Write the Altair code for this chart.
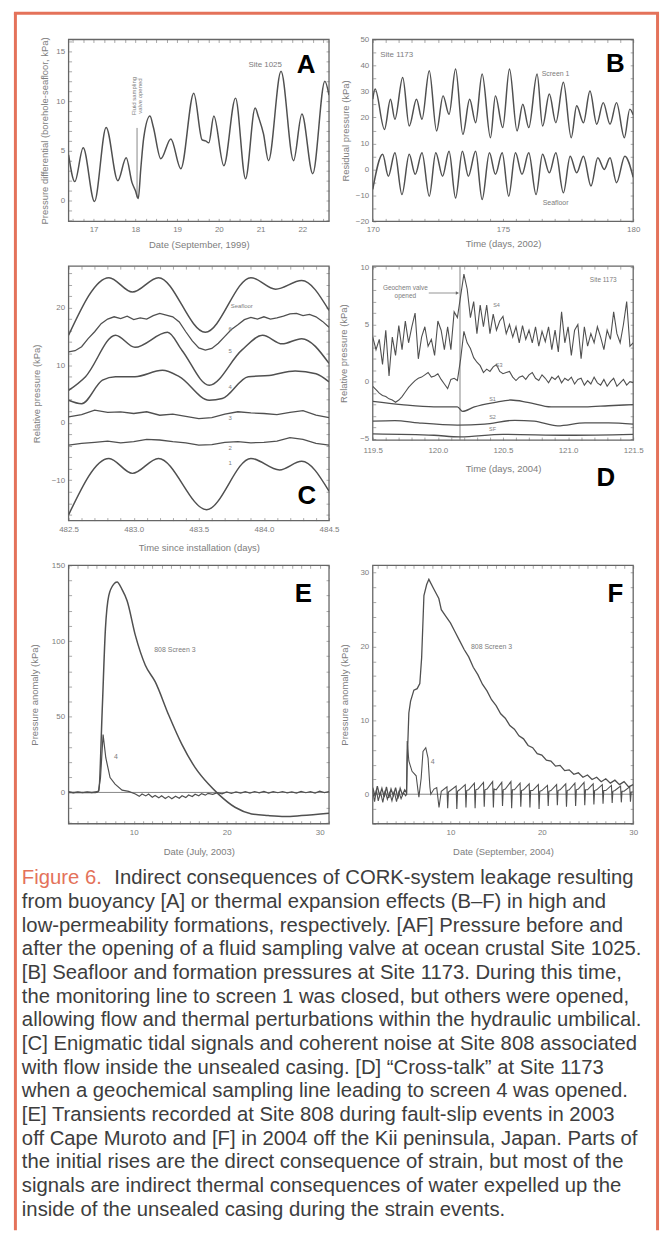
import altair as alt
import pandas as pd

FONT = "Liberation Sans, Arial, Helvetica, sans-serif"
ORANGE = "#e4725a"
INK = "#505050"
FRAME = "#666666"
TICK = "#929292"
LAB = "#7d7d7d"
CAP_INK = "#3d3d3d"

# ---------------- Panel A ----------------
a_day = [16.40, 16.55, 16.75, 17.02, 17.30, 17.58, 17.78, 17.92, 18.00, 18.07,
         18.13, 18.20, 18.35, 18.43, 18.61, 18.85, 19.09, 19.40, 19.60, 19.68,
         19.76, 19.88, 20.12, 20.40, 20.64, 20.87, 20.95, 21.07, 21.19, 21.49,
         21.79, 21.99, 22.25, 22.54, 22.64]
a_val = [4.6, 1.9, 5.3, -0.1, 7.35, 2.0, 4.3, 1.8, 1.0, 0.2,
         3.2, 6.3, 8.5, 7.4, 4.2, 6.2, 3.2, 10.8, 6.1, 6.0,
         5.8, 8.5, 3.5, 10.3, 2.2, 9.3, 8.4, 6.7, 4.0, 13.0,
         4.0, 8.7, 2.7, 12.0, 10.6]

# ---------------- Panel B ----------------
b_s1_day = [170.0, 170.09, 170.45, 170.68, 170.85, 171.15, 171.40, 171.68, 171.89, 172.17,
            172.45, 172.70, 172.93, 173.18, 173.46, 173.72, 173.95, 174.20, 174.52, 174.71,
            174.99, 175.25, 175.54, 175.76, 175.99, 176.31, 176.52, 176.78, 177.03, 177.32,
            177.62, 177.83, 178.09, 178.34, 178.60, 178.85, 179.11, 179.36, 179.66, 179.87, 180.0]
b_s1_val = [27.0, 30.9, 15.4, 27.0, 19.3, 35.4, 16.7, 27.0, 19.3, 38.0,
            14.8, 28.3, 21.2, 38.6, 13.5, 27.0, 18.0, 36.7, 12.2, 28.3,
            16.1, 38.6, 14.8, 25.1, 16.1, 36.7, 16.7, 29.0, 18.0, 33.5,
            12.2, 24.5, 18.0, 30.2, 17.4, 25.7, 17.4, 25.7, 12.2, 23.2, 21.0]
b_sf_day = [170.0, 170.38, 170.60, 170.85, 171.12, 171.40, 171.63, 171.89, 172.17, 172.42,
            172.68, 172.93, 173.18, 173.44, 173.67, 173.95, 174.20, 174.48, 174.71, 174.97,
            175.22, 175.48, 175.73, 175.99, 176.27, 176.52, 176.78, 177.03, 177.32, 177.58,
            177.83, 178.09, 178.38, 178.64, 178.89, 179.11, 179.36, 179.68, 180.0]
b_sf_val = [-7.7, 5.8, -2.6, 6.4, -9.7, 5.8, -1.9, 6.4, -10.3, 6.4,
            -2.6, 7.0, -11.0, 7.0, -2.6, 7.0, -11.6, 6.4, -1.9, 6.4,
            -10.3, 6.4, -1.9, 6.4, -9.7, 5.8, -1.3, 6.4, -9.0, 5.1,
            -1.3, 5.1, -6.4, 4.5, 0.0, 4.5, -5.1, 5.1, -3.0]

# ---------------- Panel C ----------------
c_sf_day = [482.5, 482.81, 482.99, 483.19, 483.55, 483.90, 484.09, 484.29, 484.5]
c_sf_val = [15.2, 25.2, 22.7, 25.2, 15.7, 25.2, 23.2, 24.7, 19.5]
c6_day = [round(482.5 + 0.05 * i, 3) for i in range(41)]
c6_val = [12.3, 12.5, 13.2, 14.6, 15.8, 17.2, 18.0, 18.4, 18.1, 18.5,
          17.9, 18.2, 18.0, 18.6, 19.0, 18.7, 18.4, 17.5, 15.8, 14.2,
          13.0, 12.6, 12.9, 13.8, 15.0, 16.2, 17.0, 17.9, 18.3, 18.0,
          18.4, 18.0, 18.2, 18.5, 18.9, 19.0, 18.6, 18.8, 18.4, 17.6, 16.6]
c5_day = [482.5, 482.63, 482.86, 483.01, 483.26, 483.37, 483.58, 483.83, 483.99, 484.14, 484.29, 484.5]
c5_val = [5.6, 8.0, 15.2, 13.1, 15.7, 12.6, 6.5, 12.6, 15.2, 13.7, 14.6, 10.3]
c4_day = [482.5, 482.60, 482.76, 482.86, 483.01, 483.22, 483.35, 483.58, 483.68, 483.88, 484.04, 484.24, 484.40, 484.5]
c4_val = [3.9, 3.3, 7.4, 8.0, 8.0, 9.1, 8.0, 3.9, 4.2, 8.0, 8.2, 9.0, 8.5, 7.1]
c32_day = [round(482.5 + 0.1 * i, 3) for i in range(21)]
c3_val = [1.0, 1.4, 2.2, 1.8, 1.9, 1.6, 1.9, 1.3, 1.5, 1.1, 0.7,
          0.9, 1.5, 1.9, 1.7, 1.6, 1.4, 1.8, 2.1, 1.3, 0.9]
c2_val = [-3.9, -3.6, -3.4, -3.2, -3.5, -3.3, -2.9, -3.0, -3.3, -3.5, -3.9,
          -3.8, -3.4, -3.3, -3.5, -3.4, -3.2, -2.6, -2.9, -3.6, -3.9]
c1_day = [482.5, 482.81, 482.99, 483.19, 483.56, 483.90, 484.12, 484.29, 484.5]
c1_val = [-16.0, -6.2, -8.8, -6.2, -15.1, -6.2, -8.2, -6.7, -11.9]

# ---------------- Panel D ----------------
d_t = [round(119.5 + 0.025 * i, 4) for i in range(81)]
d_s4 = [3.9, 2.8, 3.7, 1.5, 4.5, 0.5, 3.9, 2.3, 4.9, 2.8,
        5.3, 3.4, 4.8, 6.0, 2.0, 3.9, 4.8, 3.1, 3.7, 2.3,
        5.3, 4.5, 2.8, 4.8, 2.8, 6.1, 5.6, 7.5, 9.4, 8.1,
        5.6, 7.0, 4.2, 6.7, 4.8, 6.7, 4.2, 5.9, 4.5, 5.3,
        5.7, 4.2, 5.0, 3.9, 4.8, 3.4, 4.9, 3.7, 4.5, 3.4,
        4.8, 3.1, 4.4, 3.5, 4.8, 2.8, 4.5, 2.6, 6.1, 3.4,
        4.8, 2.3, 4.5, 5.0, 2.0, 4.8, 3.1, 4.2, 3.4, 4.8,
        3.9, 2.8, 4.5, 3.7, 6.1, 4.2, 3.4, 5.0, 7.0, 3.1,
        3.4]
d_s3 = [-0.4, -0.7, -1.0, -1.2, -1.3, -1.5, -1.6, -1.8, -1.6, -1.3,
        -0.9, -0.5, -0.2, 0.1, 0.3, 0.4, 0.6, 0.8, 0.4, 0.5,
        0.7, 0.2, -0.2, -0.6, 0.2, 0.3, 0.1, 2.0, 4.4, 3.4,
        2.9, 2.1, 1.7, 1.4, 0.8, 1.1, 0.9, 1.3, 1.5, 0.9,
        0.7, 0.8, 0.9, 0.4, 0.1, 0.4, 0.5, 0.2, 0.6, 0.8,
        0.3, 0.1, 0.6, 0.3, -0.1, 0.4, 0.2, 0.5, -0.1, 0.3,
        0.1, 0.4, -0.2, 0.2, 0.3, -0.3, 0.1, -0.2, 0.4, -0.1,
        -0.3, 0.2, -0.4, 0.0, 0.3, -0.4, -0.1, 0.2, -0.3, 0.0,
        -0.1]
d1_day = [119.5, 119.72, 119.97, 120.15, 120.19, 120.28, 120.44, 120.56, 120.69, 120.87, 121.13, 121.31, 121.5]
d1_val = [-1.72, -2.0, -2.2, -2.2, -2.6, -2.2, -1.8, -1.6, -1.8, -2.2, -2.2, -2.1, -2.0]
d2_day = [119.5, 119.67, 119.85, 120.15, 120.36, 120.59, 120.74, 120.92, 121.13, 121.31, 121.5]
d2_val = [-3.45, -3.4, -3.6, -3.8, -3.7, -3.37, -3.45, -3.86, -3.6, -3.6, -3.7]
dsf_day = [119.5, 119.97, 120.17, 120.5, 121.0, 121.5]
dsf_val = [-4.55, -4.68, -4.82, -4.6, -4.68, -4.6]

# ---------------- Panel E ----------------
e3_day = [3.0, 5.9, 6.25, 6.61, 6.96, 7.32, 7.86, 8.21, 8.75, 9.29, 10.18, 11.25,
          12.32, 13.75, 15.18, 16.61, 18.04, 19.11, 20.89, 22.68, 24.46, 26.25, 28.04, 31.0]
e3_val = [0.0, 0.0, 1.1, 53.5, 108.0, 130.0, 137.6, 139.0, 134.0, 126.6, 103.7, 84.0,
          73.0, 51.3, 31.7, 16.4, 5.5, -1.1, -9.8, -14.2, -15.3, -15.9, -15.3, -13.8]
e4_day = [3.0, 3.5, 4.0, 4.5, 5.0, 5.5, 6.2, 6.43, 6.71, 7.0, 7.46, 8.0, 8.75, 9.46, 10.18,
          10.6, 10.9, 11.3, 11.6, 12.0, 12.3, 12.7, 13.0, 13.4, 13.75, 14.1, 14.5, 14.9, 15.2,
          15.6, 15.9, 16.3, 16.6, 17.0, 17.3, 17.7, 18.0, 18.5, 19.0, 19.5, 20.0, 20.5, 21.0,
          21.5, 22.0, 22.5, 23.0, 23.5, 24.0, 24.5, 25.0, 25.5, 26.0, 26.5, 27.0, 27.5, 28.0,
          28.5, 29.0, 29.5, 30.0, 30.5, 31.0]
e4_val = [0.5, -0.3, 0.4, -0.2, 0.3, -0.1, 0.7, 9.8, 38.2, 22.9, 9.8, 5.5, 1.5, 0.7, -1.0,
          -2.6, -1.0, -2.3, -1.1, -3.2, -2.0, -3.6, -2.2, -4.0, -2.6, -4.2, -2.5, -3.8, -2.2,
          -3.4, -1.7, -2.7, -1.2, -2.2, -0.8, -1.8, -0.6, -1.3, -0.1, -0.9, 0.3, -0.7, 0.4,
          -0.5, 0.5, -0.4, 0.6, -0.3, 0.7, -0.4, 0.5, -0.2, 0.6, -0.3, 0.4, -0.5, 0.7,
          -0.2, 0.5, -0.4, 0.8, -0.1, 0.5]

# ---------------- Panel F ----------------
f3_day = [1.5, 1.75, 2.0, 2.25, 2.5, 2.75, 3.0, 3.25, 3.5, 3.75, 4.0, 4.25, 4.5, 4.75,
          5.0, 5.2, 5.27, 5.45, 5.64, 6.0, 6.36, 6.65, 6.85, 7.1, 7.4, 7.64, 8.18, 8.73] + \
         [9.0 + 0.5 * i for i in range(43)]
f3_val = [0.9, -0.3, 1.1, -0.2, 0.8, -0.4, 1.0, -0.5, 0.7, -0.2, 0.9, -0.6, 0.8, -0.1,
          0.6, 0.2, 4.5, 11.0, 12.6, 14.1, 14.3, 15.0, 18.5, 26.9, 28.4, 29.1, 27.8, 26.5,
          25.0, 24.1, 23.2, 22.0, 20.8, 19.6, 18.6, 17.2, 16.2, 14.9,
          14.0, 12.8, 12.0, 10.9, 10.3, 9.3, 8.8, 7.9, 7.5, 6.6,
          6.3, 5.5, 5.3, 4.6, 4.5, 3.8, 3.9, 3.2, 3.3, 2.7,
          2.9, 2.3, 2.6, 2.0, 2.3, 1.7, 2.1, 1.5, 1.9, 1.3,
          1.7, 1.0, 1.3]
f4_day = [1.5, 1.7, 1.9, 2.1, 2.35, 2.6, 2.85, 3.1, 3.35, 3.6, 3.85, 4.1, 4.35, 4.6, 4.85,
          5.1, 5.2, 5.27, 5.45, 5.8, 6.25, 6.45, 6.55, 6.8, 7.0, 7.3, 7.55, 7.75, 7.85, 8.2,
          8.5, 8.75] + \
         [round(t, 2) for d in range(9, 30) for t in (d, d + 0.62, d + 0.7, d + 0.78)] + [30.0]
f4_val = [0.4, -1.0, 0.6, -0.9, 0.3, -1.1, 0.5, -0.7, 0.2, -0.9, 0.4, -1.0, 0.3, -0.6, 0.2,
          -0.2, 0.0, 7.2, 4.5, 3.1, 2.5, 0.5, -0.4, 2.2, 5.8, 6.3, 4.9, 1.0, 0.0, 0.7,
          0.9, -1.8,
          0.4, 1.0, -1.9, 0.3,
          0.5, 1.1, -2.0, 0.4,
          0.6, 1.3, -1.8, 0.5,
          0.6, 1.5, -1.9, 0.6,
          0.7, 1.6, -1.7, 0.6,
          0.7, 1.7, -1.8, 0.7,
          0.6, 1.6, -1.6, 0.6,
          0.7, 1.7, -1.9, 0.6,
          0.6, 1.5, -1.7, 0.5,
          0.6, 1.4, -1.8, 0.5,
          0.5, 1.3, -2.0, 0.4,
          0.5, 1.2, -1.6, 0.4,
          0.5, 1.3, -1.5, 0.5,
          0.6, 1.4, -1.7, 0.5,
          0.6, 1.5, -1.6, 0.6,
          0.7, 1.6, -1.5, 0.6,
          0.6, 1.4, -1.4, 0.5,
          0.6, 1.3, -1.3, 0.5,
          0.5, 1.2, -1.2, 0.4,
          0.5, 1.1, -1.1, 0.4,
          0.4, 1.0, -1.0, 0.3,
          0.3]

# ---------------- Caption ----------------
cap_head = "Figure 6."
cap_lines = [
    "Indirect consequences of CORK-system leakage resulting",
    "from buoyancy [A] or thermal expansion effects (B\u2013F) in high and",
    "low-permeability formations, respectively. [AF] Pressure before and",
    "after the opening of a fluid sampling valve at ocean crustal Site 1025.",
    "[B] Seafloor and formation pressures at Site 1173. During this time,",
    "the monitoring line to screen 1 was closed, but others were opened,",
    "allowing flow and thermal perturbations within the hydraulic umbilical.",
    "[C] Enigmatic tidal signals and coherent noise at Site 808 associated",
    "with flow inside the unsealed casing. [D] \u201cCross-talk\u201d at Site 1173",
    "when a geochemical sampling line leading to screen 4 was opened.",
    "[E] Transients recorded at Site 808 during fault-slip events in 2003",
    "off Cape Muroto and [F] in 2004 off the Kii peninsula, Japan. Parts of",
    "the initial rises are the direct consequence of strain, but most of the",
    "signals are indirect thermal consequences of water expelled  up the",
    "inside of the unsealed casing during the strain events.",
]


# ---------------- helpers ----------------
def sc(dom):
    return alt.Scale(domain=dom, nice=False, zero=False)


def maj(k):
    return f"abs(datum.value / {k} - round(datum.value / {k})) < 0.000001 ? datum.label : ''"


TICKS = dict(domain=False, grid=False, ticks=True, tickSize=3, offset=-3,
             tickColor=TICK, tickWidth=0.8)
LABS = dict(labelFont=FONT, labelFontSize=8, labelColor=LAB, labelFlush=False,
            labelOverlap=False, titleFont=FONT, titleFontSize=9.5, titleColor=LAB,
            titleFontWeight="normal")


def axes(xdom, ydom, xt, yt, xk, yk, xfmt, yfmt, xtitle, ytitle,
         xlp=4, xtp=6, ylp=4, ytp=6):
    corners = pd.DataFrame({"x": list(xdom), "y": list(ydom)})
    bl = alt.Chart(corners).mark_point(opacity=0).encode(
        x=alt.X("x:Q", scale=sc(xdom),
                axis=alt.Axis(orient="bottom", values=xt, format=xfmt, labelExpr=maj(xk),
                              title=xtitle, labelPadding=xlp, titlePadding=xtp, **TICKS, **LABS)),
        y=alt.Y("y:Q", scale=sc(ydom),
                axis=alt.Axis(orient="left", values=yt, format=yfmt, labelExpr=maj(yk),
                              title=ytitle, labelPadding=ylp, titlePadding=ytp, **TICKS, **LABS)),
    )
    tr = alt.Chart(corners).mark_point(opacity=0).encode(
        x=alt.X("x:Q", scale=sc(xdom),
                axis=alt.Axis(orient="top", values=xt, labels=False, title=None, **TICKS)),
        y=alt.Y("y:Q", scale=sc(ydom),
                axis=alt.Axis(orient="right", values=yt, labels=False, title=None, **TICKS)),
    )
    # plot frame: a rectangle spanning the axis domains, outline only
    box = pd.DataFrame({"x": [xdom[0]], "x2": [xdom[1]], "y": [ydom[0]], "y2": [ydom[1]]})
    fr = alt.Chart(box).mark_rect(fill="transparent", stroke=FRAME, strokeWidth=1.3,
                                  strokeOpacity=1).encode(
        x=alt.X("x:Q", scale=sc(xdom), axis=None), x2="x2:Q",
        y=alt.Y("y:Q", scale=sc(ydom), axis=None), y2="y2:Q",
    )
    return [fr, bl, tr]


def line(xs, ys, xdom, ydom, interp="monotone", width=1.5, color=INK):
    df = pd.DataFrame({"x": xs, "y": ys})
    return alt.Chart(df).mark_line(color=color, strokeWidth=width, interpolate=interp,
                                   clip=True).encode(
        x=alt.X("x:Q", scale=sc(xdom), axis=None),
        y=alt.Y("y:Q", scale=sc(ydom), axis=None),
    )


def text(xs, ys, ts, xdom, ydom, size=7.5, color=LAB, weight="normal", angle=0,
         align="center"):
    df = pd.DataFrame({"x": xs, "y": ys, "t": ts})
    return alt.Chart(df).mark_text(fontSize=size, color=color, fontWeight=weight,
                                   angle=angle, align=align, baseline="middle",
                                   font=FONT).encode(
        x=alt.X("x:Q", scale=sc(xdom), axis=None),
        y=alt.Y("y:Q", scale=sc(ydom), axis=None),
        text="t:N",
    )


def big(x, y, letter, xdom, ydom):
    return text([x], [y], [letter], xdom, ydom, size=26, color="#000000", weight="bold")


def vrule(x, y0, y1, xdom, ydom, color="#7a7a7a", width=0.9):
    df = pd.DataFrame({"x": [x], "y": [y0], "y2": [y1]})
    return alt.Chart(df).mark_rule(color=color, strokeWidth=width).encode(
        x=alt.X("x:Q", scale=sc(xdom), axis=None),
        y=alt.Y("y:Q", scale=sc(ydom), axis=None),
        y2="y2:Q",
    )


def hrule(y, x0, x1, xdom, ydom, color="#7a7a7a", width=0.9):
    df = pd.DataFrame({"x": [x0], "x2": [x1], "y": [y]})
    return alt.Chart(df).mark_rule(color=color, strokeWidth=width).encode(
        x=alt.X("x:Q", scale=sc(xdom), axis=None),
        x2="x2:Q",
        y=alt.Y("y:Q", scale=sc(ydom), axis=None),
    )


one = pd.DataFrame({"k": [0]})


def panel(layers, w, h):
    return alt.layer(*layers).resolve_axis(
        x="independent", y="independent").properties(width=w, height=h)


border = [
    alt.Chart(one).mark_rule(color=ORANGE, strokeWidth=3).encode(
        x=alt.value(-53.5), y=alt.value(-26.5), y2=alt.value(1198)),
    alt.Chart(one).mark_rule(color=ORANGE, strokeWidth=3).encode(
        x=alt.value(592.5), y=alt.value(-26.5), y2=alt.value(1198)),
    alt.Chart(one).mark_rule(color=ORANGE, strokeWidth=3).encode(
        x=alt.value(-55), x2=alt.value(594), y=alt.value(-26.5)),
]

# ---------------- panels ----------------
W = 262
XA, YA = [16.4, 22.64], [-2.1, 16.2]
pA = panel(
    border
    + axes(XA, YA, [round(16.5 + 0.25 * i, 3) for i in range(25)], list(range(-2, 17)),
           1, 5, ".0f", ".0f", "Date (September, 1999)",
           "Pressure differential (borehole-seafloor, kPa)", xtp=6, ytp=6)
    + [
        vrule(18.04, 0.3, 7.3, XA, YA),
        line(a_day, a_val, XA, YA),
        text([17.96, 18.12], [10.5, 10.5], ["Fluid sampling", "valve opened"], XA, YA,
             size=6, angle=270),
        text([21.11], [13.6], ["Site 1025"], XA, YA, size=8),
        big(22.09, 13.6, "A", XA, YA),
    ], W, 183)

XB, YB = [170, 180], [-20, 50]
pB = panel(
    axes(XB, YB, [170 + 0.5 * i for i in range(21)], list(range(-20, 51, 5)),
         5, 10, ".0f", ".0f", "Time (days, 2002)", "Residual pressure (kPa)",
         xtp=5, ytp=5)
    + [
        line(b_s1_day, b_s1_val, XB, YB),
        line(b_sf_day, b_sf_val, XB, YB),
        text([170.92], [43.9], ["Site 1173"], XB, YB, size=8),
        text([177.02, 177.02], [36.6, -12.9], ["Screen 1", "Seafloor"], XB, YB, size=7),
        big(179.31, 40.4, "B", XB, YB),
    ], W, 183)

XC, YC = [482.5, 484.5], [-17, 27.2]
pC = panel(
    axes(XC, YC, [round(482.5 + 0.1 * i, 3) for i in range(21)], list(range(-16, 27, 2)),
         0.5, 10, ".1f", ".0f", "Time since installation (days)", "Relative pressure (kPa)",
         xlp=5, xtp=9, ytp=10)
    + [
        line(c_sf_day, c_sf_val, XC, YC),
        line(c6_day, c6_val, XC, YC, interp="linear", width=1.3),
        line(c5_day, c5_val, XC, YC),
        line(c4_day, c4_val, XC, YC),
        line(c32_day, c3_val, XC, YC, interp="linear", width=1.3),
        line(c32_day, c2_val, XC, YC, interp="linear", width=1.3),
        line(c1_day, c1_val, XC, YC),
        text([483.83, 483.74, 483.74, 483.74, 483.74, 483.74, 483.74],
             [20.3, 16.3, 12.5, 6.2, 0.74, -4.4, -7.0],
             ["Seafloor", "6", "5", "4", "3", "2", "1"], XC, YC, size=6),
        big(484.33, -12.75, "C", XC, YC),
    ], W, 256)

XD, YD = [119.5, 121.5], [-5.1, 10.1]
pD = panel(
    axes(XD, YD, [round(119.5 + 0.1 * i, 3) for i in range(21)], list(range(-5, 11)),
         0.5, 5, ".1f", ".0f", "Time (days, 2004)", "Relative pressure (kPa)",
         xlp=7, xtp=9, ytp=11)
    + [
        vrule(120.17, -5.1, 10.1, XD, YD),
        line(d_t, d_s4, XD, YD, interp="linear", width=1.1),
        line(d_t, d_s3, XD, YD, interp="linear", width=1.1),
        line(d1_day, d1_val, XD, YD, width=1.3),
        line(d2_day, d2_val, XD, YD, width=1.3),
        line(dsf_day, dsf_val, XD, YD, width=1.3),
        hrule(7.75, 119.93, 120.14, XD, YD, width=0.8),
        alt.Chart(pd.DataFrame({"x": [120.15], "y": [7.75]})).mark_point(
            shape="triangle-right", filled=True, size=14, color="#6a6a6a", opacity=1).encode(
            x=alt.X("x:Q", scale=sc(XD), axis=None), y=alt.Y("y:Q", scale=sc(YD), axis=None)),
        text([119.75, 119.75], [8.19, 7.5], ["Geochem valve", "opened"], XD, YD, size=6.5),
        text([121.27], [8.87], ["Site 1173"], XD, YD, size=6.5),
        text([120.45, 120.47, 120.42, 120.42, 120.42], [6.7, 1.48, -1.48, -3.12, -4.13],
             ["S4", "S3", "S1", "S2", "SF"], XD, YD, size=5.5),
        big(121.29, -8.4, "D", XD, YD),
    ], W, 175)

XE, YE = [3, 31], [-20.7, 150]
pE = panel(
    axes(XE, YE, list(range(3, 32)), list(range(-20, 151, 10)), 10, 50, ".0f", ".0f",
         "Date (July, 2003)", "Pressure anomaly (kPa)", xlp=5, xtp=10, ytp=12)
    + [
        hrule(0, 3, 31, XE, YE),
        line(e3_day, e3_val, XE, YE),
        line(e4_day, e4_val, XE, YE, interp="linear", width=1.2),
        text([14.43], [93.8], ["808 Screen 3"], XE, YE, size=7),
        text([8.1], [23.1], ["4"], XE, YE, size=7),
        big(28.25, 131, "E", XE, YE),
    ], W, 260)

XF, YF = [1.5, 30], [-4, 31]
pF = panel(
    axes(XF, YF, list(range(2, 31)), list(range(-4, 31, 2)), 10, 10, ".0f", ".0f",
         "Date (September, 2004)", "Pressure anomaly (kPa)", xlp=5, xtp=10, ytp=11)
    + [
        hrule(0, 1.5, 30, XF, YF),
        line(f3_day, f3_val, XF, YF, interp="linear", width=1.3),
        line(f4_day, f4_val, XF, YF, interp="linear", width=1.1),
        text([14.5], [19.9], ["808 Screen 3"], XF, YF, size=7),
        text([8.07], [4.4], ["4"], XF, YF, size=7),
        big(28.04, 27.15, "F", XF, YF),
    ], W, 260)

# ---------------- caption ----------------
CAPY = alt.Scale(domain=[0, 14], range=[10, 343.2])
cap_df = pd.DataFrame({"line": list(range(1, 15)), "text": cap_lines[1:]})
cap_first = pd.DataFrame({"line": [0], "text": [cap_lines[0]], "head": [cap_head]})
CAPFS = 20.4
cap = alt.layer(
    alt.Chart(cap_first).mark_text(align="left", baseline="middle", fontSize=CAPFS,
                                   font=FONT, color=ORANGE).encode(
        x=alt.value(-47), y=alt.Y("line:Q", scale=CAPY, axis=None), text="head:N"),
    alt.Chart(cap_first).mark_text(align="left", baseline="middle", fontSize=CAPFS,
                                   font=FONT, color=CAP_INK).encode(
        x=alt.value(46), y=alt.Y("line:Q", scale=CAPY, axis=None), text="text:N"),
    alt.Chart(cap_df).mark_text(align="left", baseline="middle", fontSize=CAPFS,
                                font=FONT, color=CAP_INK).encode(
        x=alt.value(-47), y=alt.Y("line:Q", scale=CAPY, axis=None), text="text:N"),
).properties(width=W, height=353)

chart = alt.concat(
    pA, pB, pC, pD, pE, pF, cap,
    columns=2, spacing={"row": 45, "column": 44}, bounds="flush",
).properties(
    padding={"left": 12, "top": 8, "right": 4, "bottom": 0},
    background="white",
).configure_view(strokeWidth=0)

chart.save("out.html", embed_options={"renderer": "svg", "actions": False})
